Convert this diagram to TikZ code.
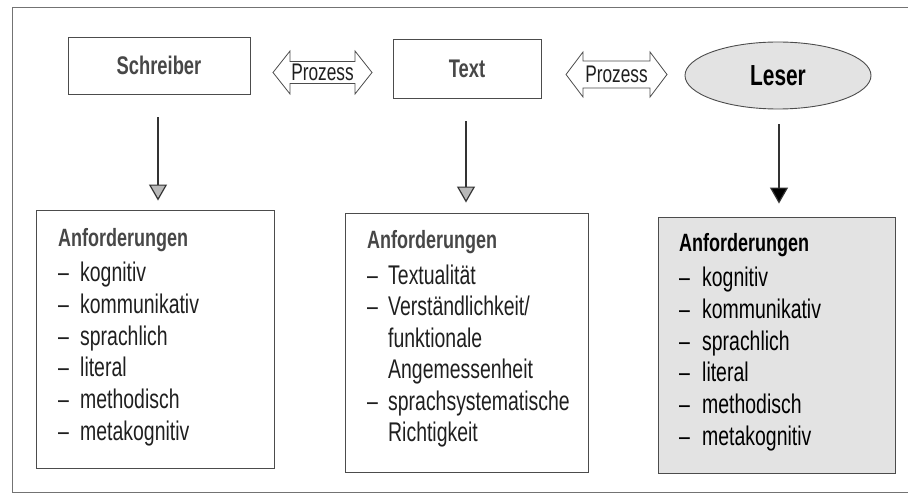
\documentclass[tikz,border=0pt]{standalone}
\usepackage{fontspec}
\setmainfont{Liberation Sans}[FakeStretch=0.72]
\usetikzlibrary{arrows.meta,shapes.geometric}

\definecolor{frameline}{gray}{0.45}
\definecolor{boxline}{gray}{0.30}
\definecolor{headgray}{gray}{0.28}
\definecolor{itemgray}{gray}{0.12}
\definecolor{screen}{gray}{0.89}

\tikzset{
  plainbox/.style={draw=boxline, line width=0.9pt, rectangle, inner sep=0pt},
  toptitle/.style={font=\fontsize{25.5}{28}\selectfont\bfseries, text=headgray},
  procarrow/.style={draw=boxline, line width=0.8pt, fill=white},
  proclabel/.style={font=\fontsize{24}{28}\selectfont, text=itemgray, inner sep=0pt},
  line/.style={anchor=base west, inner sep=0pt, font=\fontsize{27}{30}\selectfont},
  headline/.style={line, font=\fontsize{25}{30}\selectfont\bfseries},
  downarrow/.style={line width=1.2pt, draw=black!80,
    -{Triangle[width=18pt,length=16pt,fill=#1]}},
}

\begin{document}
\begin{tikzpicture}[x=1pt,y=-1pt]
  \useasboundingbox (0,0) rectangle (908,497);

  % outer frame, open to the right
  \draw[frameline, line width=0.8pt] (908,7) -- (12,7) -- (12,492) -- (908,492);

  % top row: writer, text, reader
  \node[plainbox, minimum width=182pt, minimum height=57pt] (schreiber) at (159,65.5) {};
  \node[toptitle] (schreiberlbl) at (schreiber.center) {Schreiber};
  \node[plainbox, minimum width=148pt, minimum height=59pt] (text) at (467,68.5) {};
  \node[toptitle] (textlbl) at (text.center) {Text};
  \node[ellipse, draw=boxline, line width=0.9pt, fill=screen,
        minimum width=186pt, minimum height=67pt, inner sep=0pt] (leser) at (778,75.5) {};
  \node[font=\fontsize{29}{30}\selectfont\bfseries, text=black] (leserlbl) at (leser.center) {Leser};

  % process double arrows between the top boxes
  \draw[procarrow] (273,72.5) -- (290,51) -- (290,61.5) -- (355,61.5) -- (355,51)
    -- (372,72.5) -- (355,94) -- (355,83.5) -- (290,83.5) -- (290,94) -- cycle;
  \node[proclabel] (proz1) at (322.5,72.5) {Prozess};
  \draw[procarrow] (566,74.5) -- (583,52) -- (583,61) -- (650,61) -- (650,52)
    -- (667,74.5) -- (650,97) -- (650,88) -- (583,88) -- (583,97) -- cycle;
  \node[proclabel] (proz2) at (616.5,74.5) {Prozess};

  % bottom row: requirement boxes
  \node[plainbox, minimum width=238pt, minimum height=258pt] (req1) at (155,339) {};
  \node[plainbox, minimum width=243pt, minimum height=259pt] (req2) at (466.5,342.5) {};
  \node[plainbox, fill=screen, minimum width=237pt, minimum height=256pt] (req3) at (776.5,345) {};

  % vertical arrows
  \draw[downarrow=gray!55, shorten <=23pt, shorten >=9pt]
    (schreiber.south -| 158,0) -- (req1.north -| 158,0);
  \draw[downarrow=gray!55, shorten <=23pt, shorten >=10pt]
    (text.south -| 466,0) -- (req2.north -| 466,0);
  \draw[downarrow=black, shorten <=15pt, shorten >=13pt]
    (leser.south -| 779,0) -- (req3.north -| 779,0);

  % writer requirements
  \node[headline, text=headgray] (h1) at (58,247) {Anforderungen};
  \foreach \t [count=\i from 0] in {kognitiv,kommunikativ,sprachlich,literal,methodisch,metakognitiv}{
    \node[line, text=itemgray] (a\i) at (58,282+31.6*\i) {–};
    \node[line, text=itemgray] (b\i) at (80,282+31.6*\i) {\t};
  }

  % text requirements
  \node[headline, text=headgray] (h2) at (367,249) {Anforderungen};
  \node[line, text=itemgray] (c0) at (367,284) {–};
  \node[line, text=itemgray] (d0) at (388,284) {Textualität};
  \node[line, text=itemgray] (c1) at (367,315.5) {–};
  \node[line, text=itemgray] (d1) at (388,315.5) {Verständlichkeit/};
  \node[line, text=itemgray] (d2) at (388,347) {funktionale};
  \node[line, text=itemgray] (d3) at (388,378.5) {Angemessenheit};
  \node[line, text=itemgray] (c4) at (367,410) {–};
  \node[line, text=itemgray] (d4) at (388,410) {sprachsystematische};
  \node[line, text=itemgray] (d5) at (388,441.5) {Richtigkeit};

  % reader requirements
  \node[headline, text=black] (h3) at (679,252) {Anforderungen};
  \foreach \t [count=\i from 0] in {kognitiv,kommunikativ,sprachlich,literal,methodisch,metakognitiv}{
    \node[line, text=black] (e\i) at (679,287+31.6*\i) {–};
    \node[line, text=black] (f\i) at (702,287+31.6*\i) {\t};
  }
\end{tikzpicture}
\end{document}
